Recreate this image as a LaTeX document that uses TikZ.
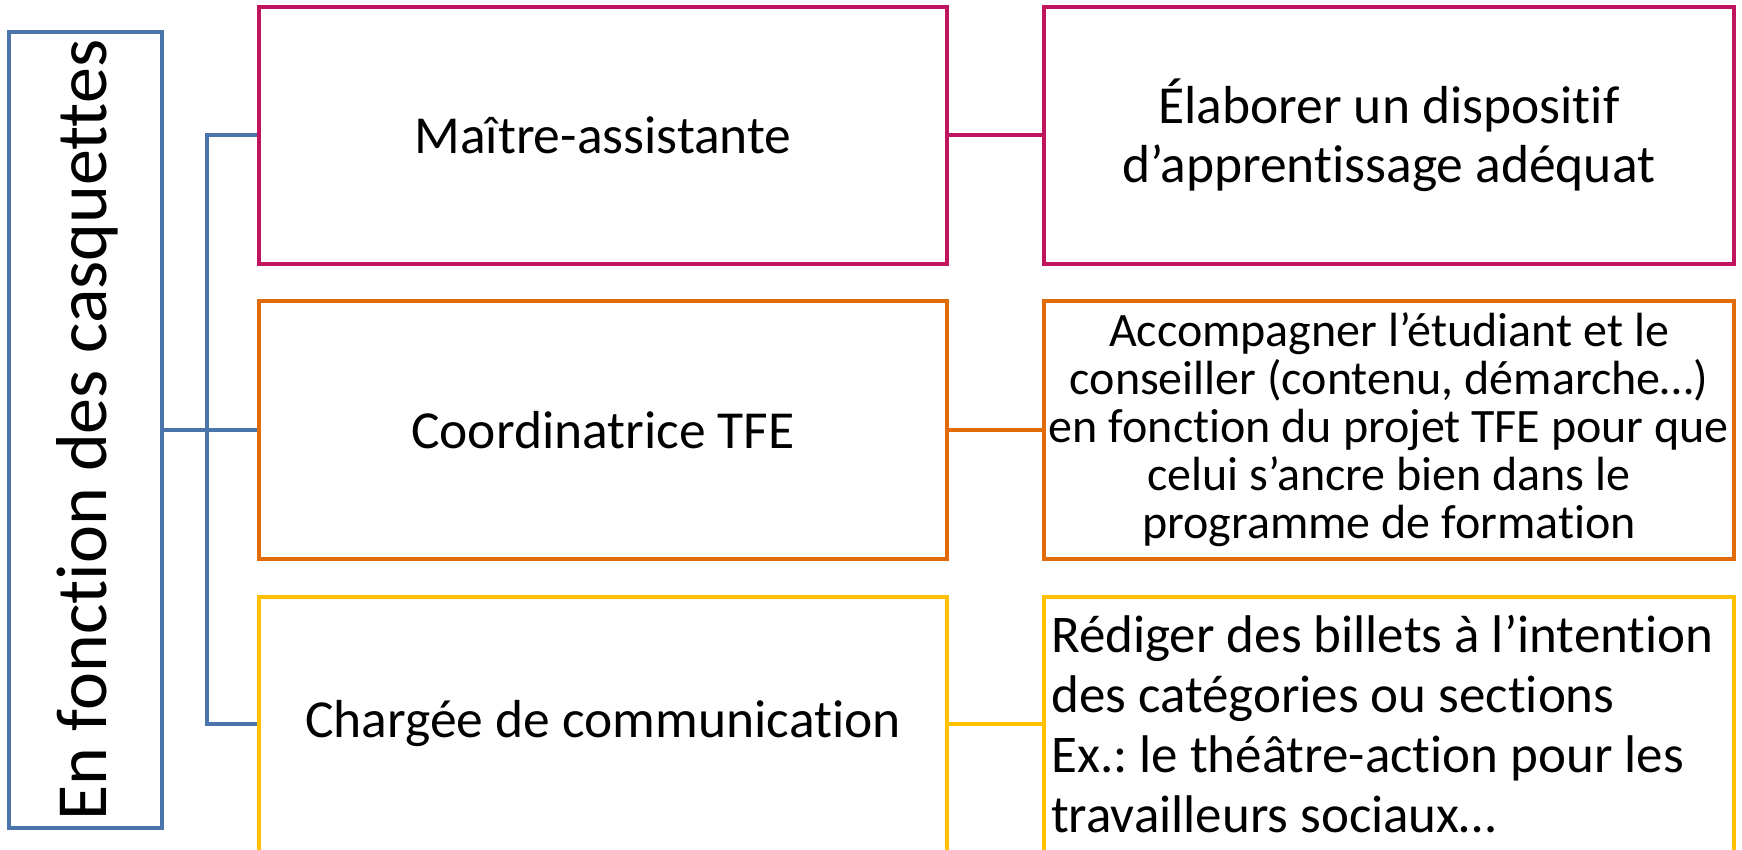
\documentclass[tikz,border=0pt]{standalone}
\usepackage{fontspec}
\setmainfont{Carlito}[Ligatures=NoCommon]
\frenchspacing
\definecolor{cblue}{HTML}{4A74AA}
\definecolor{cpink}{HTML}{C0145F}
\definecolor{corange}{HTML}{E36C0A}
\definecolor{cyellow}{HTML}{FFC000}
\tikzset{
  boxc/.style={draw=#1, line width=4.5pt, rectangle, inner sep=0pt},
  link/.style={draw=#1, line width=4pt},
  midtxt/.style={font=\fontsize{53.5}{64}\selectfont, align=center},
}
\begin{document}
\begin{tikzpicture}[x=1pt,y=-1pt]
\useasboundingbox (0,0) rectangle (1742,850);
% left box
\node[boxc=cblue, minimum width=153pt, minimum height=796pt] (L) at (85.5,430) {};
\node[rotate=90, font=\fontsize{72}{86}\selectfont] (Lt) at (87,430) {En fonction des casquettes};
% middle boxes
\node[boxc=cpink, minimum width=688pt, minimum height=257pt, midtxt] (m1) at (603,135.5) {Maître-assistante};
\node[boxc=corange, minimum width=688pt, minimum height=258pt, midtxt] (m2) at (603,430) {Coordinatrice TFE};
\node[boxc=cyellow, minimum width=688pt, minimum height=400pt] (m3) at (603,797) {};
\node[midtxt] (m3t) at (603,724) {Chargée de communication};
% right boxes
\node[boxc=cpink, minimum width=690pt, minimum height=257pt, align=center, font=\fontsize{53.5}{59}\selectfont] (r1) at (1389,135.5) {Élaborer un dispositif\\d’apprentissage adéquat};
\node[boxc=corange, minimum width=690pt, minimum height=258pt, align=center, font=\fontsize{48}{48}\selectfont] (r2) at (1389,430) {Accompagner l’étudiant et le\\conseiller (contenu, démarche…)\\en fonction du projet TFE pour que\\celui s’ancre bien dans le\\programme de formation};
\node[boxc=cyellow, minimum width=690pt, minimum height=400pt] (r3) at (1389,797) {};
\node[align=left, anchor=west, font=\fontsize{53}{60}\selectfont, inner sep=0pt] (r3t) at (1051,724) {Rédiger des billets à l’intention\\des catégories ou sections\\Ex.: le théâtre-action pour les\\travailleurs sociaux…};
% connectors
\draw[link=cblue] (L.east) -- (m2.west);
\draw[link=cblue] (m1.west) -- ++(-50,0) |- (m3t -| m3.west);
\draw[link=cpink] (m1.east) -- (r1.west);
\draw[link=corange] (m2.east) -- (r2.west);
\draw[link=cyellow] (m3t -| m3.east) -- (m3t -| r3.west);
\end{tikzpicture}
\end{document}
